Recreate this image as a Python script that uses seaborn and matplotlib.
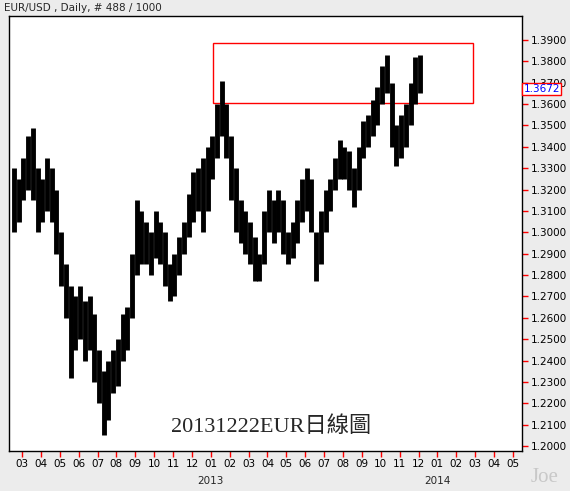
import matplotlib
matplotlib.use("Agg")
import matplotlib.pyplot as plt
import matplotlib.patches as mpatches
import seaborn as sns
import numpy as np
import pandas as pd

sns.set_style("white")
plt.rcParams['font.family'] = ['DejaVu Sans']

# weekly high/low, 4 bars per month (Dec 2013 has 3)
months = ['2012-03', '2012-04', '2012-05', '2012-06', '2012-07', '2012-08', '2012-09',
          '2012-10', '2012-11', '2012-12', '2013-01', '2013-02', '2013-03', '2013-04',
          '2013-05', '2013-06', '2013-07', '2013-08', '2013-09', '2013-10', '2013-11', '2013-12']
highs = [
    [1.330, 1.325, 1.335, 1.345], [1.349, 1.330, 1.325, 1.335], [1.330, 1.320, 1.300, 1.285],
    [1.275, 1.270, 1.275, 1.268], [1.270, 1.262, 1.245, 1.235], [1.240, 1.245, 1.250, 1.262],
    [1.265, 1.290, 1.315, 1.310], [1.305, 1.300, 1.310, 1.305], [1.300, 1.285, 1.290, 1.298],
    [1.305, 1.318, 1.328, 1.330], [1.335, 1.340, 1.345, 1.360], [1.371, 1.360, 1.345, 1.330],
    [1.315, 1.310, 1.305, 1.298], [1.290, 1.310, 1.320, 1.315], [1.320, 1.315, 1.300, 1.305],
    [1.315, 1.325, 1.330, 1.325], [1.300, 1.310, 1.320, 1.325], [1.335, 1.343, 1.340, 1.338],
    [1.330, 1.340, 1.352, 1.355], [1.362, 1.368, 1.378, 1.383], [1.370, 1.350, 1.355, 1.360],
    [1.370, 1.382, 1.383]]
lows = [
    [1.300, 1.305, 1.315, 1.320], [1.315, 1.300, 1.305, 1.310], [1.305, 1.290, 1.275, 1.260],
    [1.232, 1.245, 1.250, 1.240], [1.245, 1.230, 1.220, 1.205], [1.212, 1.225, 1.228, 1.240],
    [1.245, 1.260, 1.280, 1.285], [1.285, 1.280, 1.288, 1.285], [1.275, 1.268, 1.270, 1.280],
    [1.290, 1.298, 1.305, 1.310], [1.300, 1.310, 1.325, 1.335], [1.345, 1.335, 1.315, 1.300],
    [1.295, 1.290, 1.285, 1.277], [1.277, 1.285, 1.300, 1.295], [1.300, 1.290, 1.285, 1.288],
    [1.295, 1.305, 1.310, 1.300], [1.277, 1.285, 1.300, 1.310], [1.320, 1.325, 1.325, 1.320],
    [1.312, 1.320, 1.335, 1.340], [1.345, 1.350, 1.360, 1.365], [1.340, 1.331, 1.335, 1.340],
    [1.350, 1.360, 1.365]]
last_price = 1.3672
month_labels = ['03', '04', '05', '06', '07', '08', '09', '10', '11', '12', '01', '02', '03',
                '04', '05', '06', '07', '08', '09', '10', '11', '12', '01', '02', '03', '04', '05']
y_ticks = [1.20, 1.21, 1.22, 1.23, 1.24, 1.25, 1.26, 1.27, 1.28, 1.29, 1.30, 1.31, 1.32,
           1.33, 1.34, 1.35, 1.36, 1.37, 1.38, 1.39]

rows = []
for mi, (hs, ls) in enumerate(zip(highs, lows)):
    for w, (h, l) in enumerate(zip(hs, ls)):
        rows.append({'x': mi - 0.55 + (w + 0.5) / 4, 'high': h, 'low': l})
df = pd.DataFrame(rows)

fig = plt.figure(figsize=(5.7, 4.91), dpi=100, facecolor='#ececec')
ax = fig.add_axes([9 / 570, 40 / 491, 513 / 570, 435 / 491])
ax.vlines(df['x'], df['low'], df['high'], color='black', linewidth=3.5)

ax.set_xlim(-0.69, 26.48)
ax.set_ylim(1.1977, 1.4012)
ax.yaxis.tick_right()
ax.set_yticks(y_ticks)
ax.set_yticklabels([f'{v:.4f}' for v in y_ticks], fontsize=7.5)
ax.set_xticks(range(len(month_labels)))
ax.set_xticklabels(month_labels, fontsize=7.5)
ax.tick_params(axis='both', colors='red', labelcolor='black', length=4, width=1,
               direction='out', bottom=True, right=True, pad=2)
for s in ax.spines.values():
    s.set_color('black')
    s.set_linewidth(1)

ax.text(10, -0.075, '2013', transform=ax.get_xaxis_transform(), ha='center', fontsize=7.5)
ax.text(22, -0.075, '2014', transform=ax.get_xaxis_transform(), ha='center', fontsize=7.5)

ax.add_patch(mpatches.Rectangle((10.12, 1.3605), 13.74, 0.0281, fill=False,
                                edgecolor='red', linewidth=1))
ax.text(1.003, last_price, f'{last_price:.4f}', transform=ax.get_yaxis_transform(),
        color='blue', fontsize=7.5, va='center', ha='left', zorder=5,
        bbox=dict(boxstyle='square,pad=0.1', fc='white', ec='red', lw=1))

ax.text(13.2, 1.209, '20131222EUR日線圖', ha='center', va='center', fontsize=16,
        family=['Liberation Serif', 'Noto Sans CJK TC'])
fig.text(4 / 570, 1 - 8 / 491, 'EUR/USD , Daily, # 488 / 1000', fontsize=7.5, va='center')
fig.text(545 / 570, 1 - 477 / 491, 'Joe', fontsize=15, color='#c8c8c8', ha='center',
         va='center', family='Liberation Serif')

fig.savefig('out.png', dpi=100, facecolor=fig.get_facecolor())
